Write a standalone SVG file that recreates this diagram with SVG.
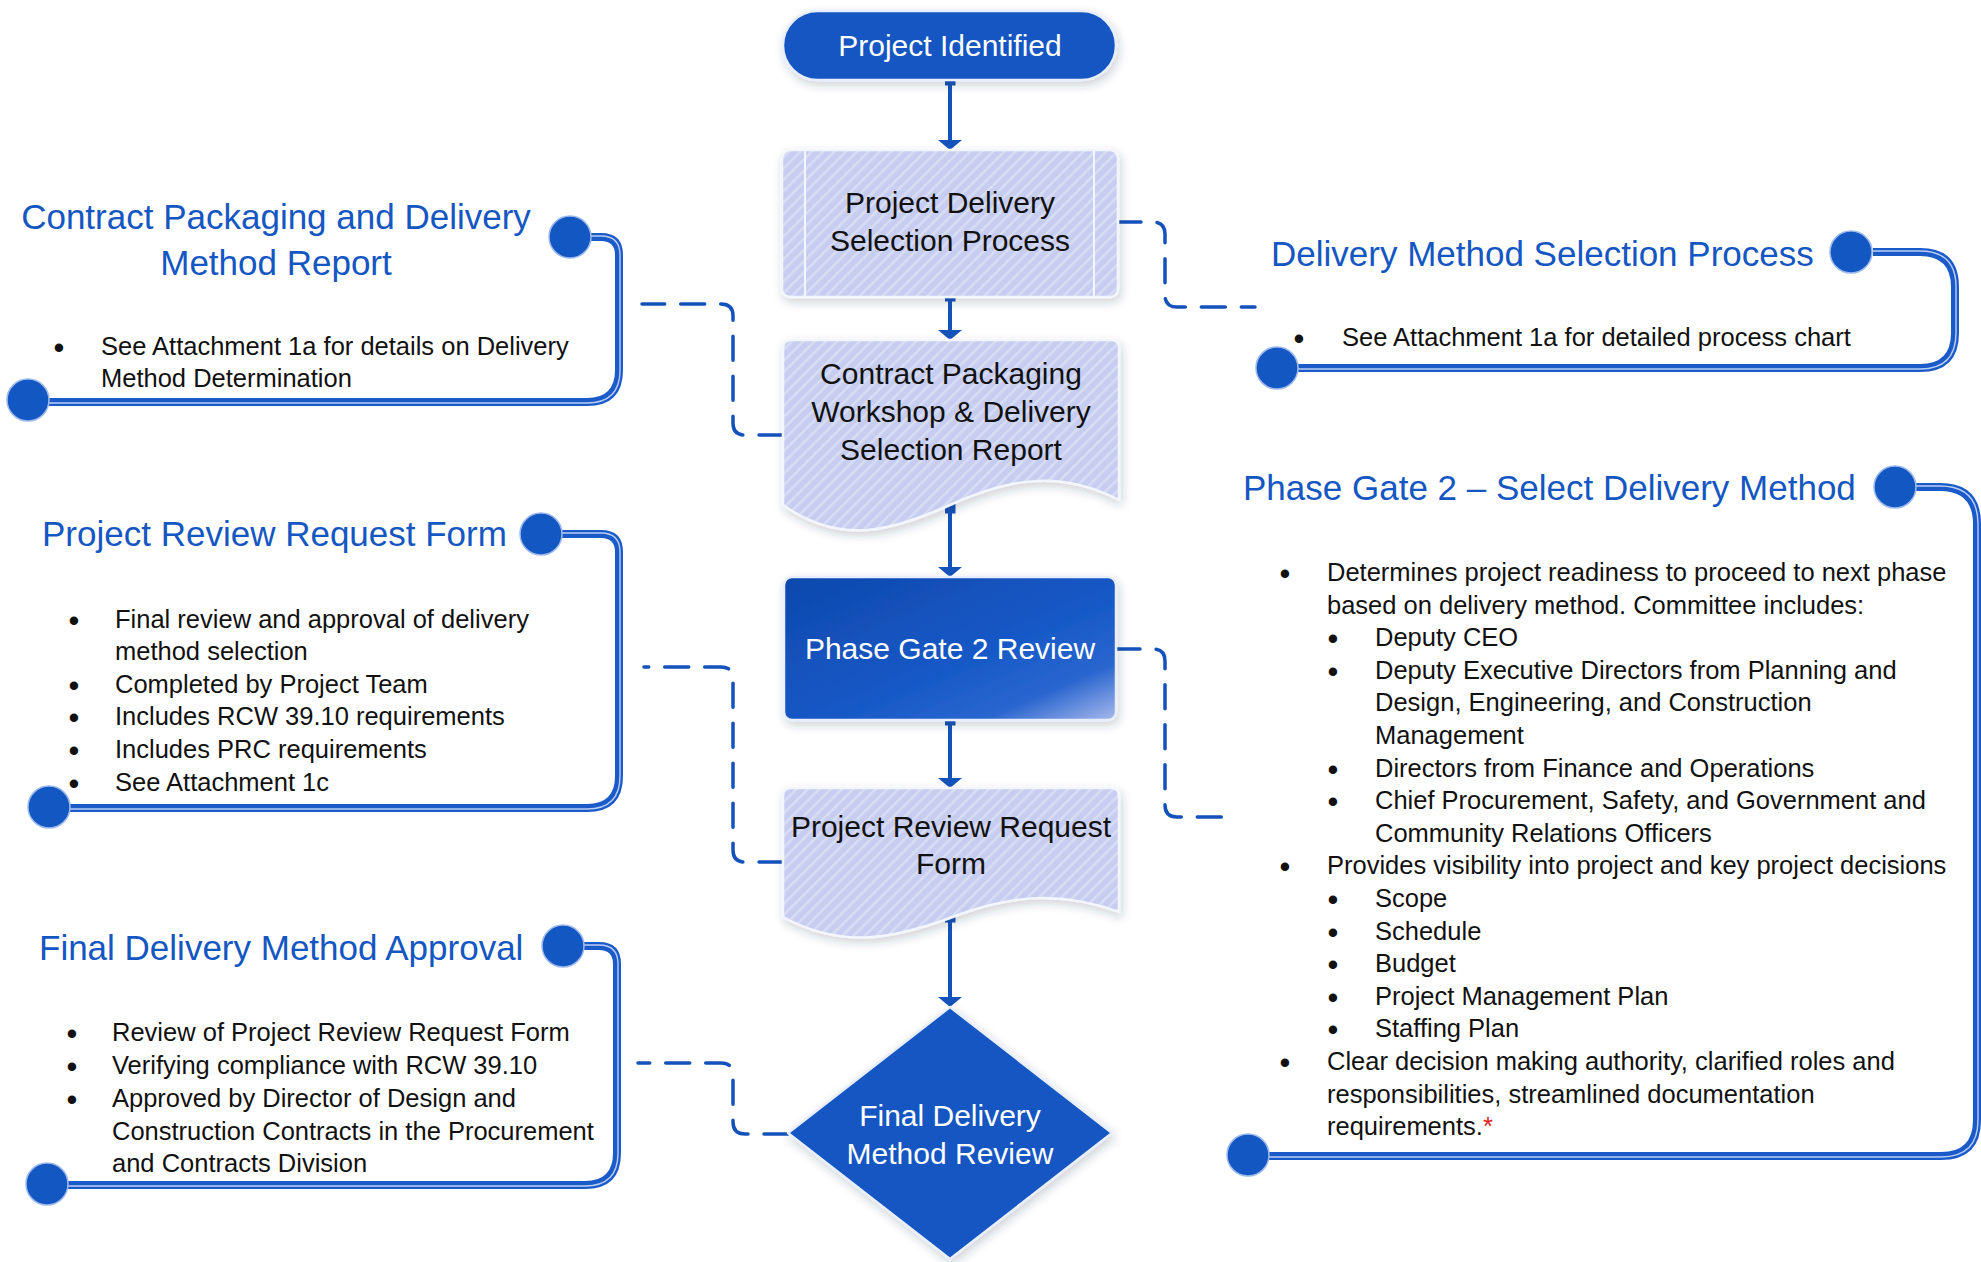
<svg xmlns="http://www.w3.org/2000/svg" width="1981" height="1262" viewBox="0 0 1981 1262">
<defs>
<style>
.nt{font-family:"Liberation Sans",Arial,sans-serif;font-size:30px;text-anchor:middle}
.dk{fill:#ffffff}
.lt{fill:#111111}
.ttl{font-family:"Liberation Sans",Arial,sans-serif;font-size:35px;fill:#1456c2}
.bd{font-family:"Liberation Sans",Arial,sans-serif;font-size:25.5px;fill:#111111}
.bu{font-family:"Liberation Sans",Arial,sans-serif;font-size:31px;fill:#111111;text-anchor:middle}
.band{fill:none;stroke:#1a5bc9;stroke-width:8;stroke-linejoin:round}
.hl{fill:none;stroke:#d6e2fa;stroke-width:1.4;opacity:0.85}
.dot{fill:#1357c3;stroke:#9db9ec;stroke-width:1.5}
.flow{fill:none;stroke:#1452bb;stroke-width:4}
.dash{fill:none;stroke:#1452bb;stroke-width:3.5;stroke-dasharray:24 16;stroke-linecap:round}
.lnode{fill:url(#stripes);stroke:#f4f6fd;stroke-width:2.5}
.dnode{stroke:#e8eefb;stroke-width:2.5}
</style>
<pattern id="stripes" patternUnits="userSpaceOnUse" width="8" height="8" patternTransform="rotate(45)">
<rect width="8" height="8" fill="#c6cdf0"/>
<rect x="0" y="0" width="2.5" height="8" fill="#d8ddf5"/>
</pattern>
<linearGradient id="pg" x1="0" y1="0" x2="1" y2="1">
<stop offset="0" stop-color="#0f49ad"/>
<stop offset="0.55" stop-color="#1558c6"/>
<stop offset="0.8" stop-color="#2a66cf"/>
<stop offset="1" stop-color="#a8b9ec"/>
</linearGradient>
<filter id="sh" x="-10%" y="-10%" width="125%" height="130%">
<feDropShadow dx="2" dy="4" stdDeviation="5" flood-color="#2a3550" flood-opacity="0.22"/>
</filter>
<marker id="arr" markerUnits="userSpaceOnUse" viewBox="0 0 10 24" markerWidth="10" markerHeight="24" refX="7" refY="12" orient="auto">
<path d="M0,0 L10,12 L0,24 Z" fill="#1452bb"/>
</marker>
<marker id="sq" markerUnits="userSpaceOnUse" viewBox="0 0 11 11" markerWidth="11" markerHeight="11" refX="5.5" refY="5.5" orient="auto">
<rect width="11" height="11" fill="#1452bb"/>
</marker>
</defs>
<rect width="1981" height="1262" fill="#ffffff"/>

<g id="connectors">
<path class="flow" d="M950,80 V147" marker-start="url(#sq)" marker-end="url(#arr)"/>
<path class="flow" d="M950,296 V337" marker-start="url(#sq)" marker-end="url(#arr)"/>
<path class="flow" d="M950,508 V574" marker-start="url(#sq)" marker-end="url(#arr)"/>
<path class="flow" d="M950,720 V785" marker-start="url(#sq)" marker-end="url(#arr)"/>
<path class="flow" d="M950,917 V1004" marker-start="url(#sq)" marker-end="url(#arr)"/>
<path class="dash" d="M783,435 H745 Q733,435 733,423 V316 Q733,304 721,304 H642"/>
<path class="dash" d="M783,862 H745 Q733,862 733,850 V679 Q733,667 721,667 H644"/>
<path class="dash" d="M788,1134 H745 Q733,1134 733,1122 V1075 Q733,1063 721,1063 H638"/>
<path class="dash" d="M1117,222 H1153 Q1165,222 1165,234 V295 Q1165,307 1177,307 H1255"/>
<path class="dash" d="M1116,649 H1153 Q1165,649 1165,661 V805 Q1165,817 1177,817 H1223"/>
</g>

<g id="n-project-identified">
<rect x="783" y="11" width="333" height="69" rx="34.5" fill="#1357c3" class="dnode" filter="url(#sh)"/>
<text class="nt dk" x="950" y="56">Project Identified</text>
</g>

<g id="n-pdsp">
<rect x="782" y="150" width="336" height="147" rx="8" class="lnode" filter="url(#sh)"/>
<line x1="805" y1="151" x2="805" y2="296" stroke="#f4f6fd" stroke-width="2"/>
<line x1="1094" y1="151" x2="1094" y2="296" stroke="#f4f6fd" stroke-width="2"/>
<text class="nt lt" x="950" y="213">Project Delivery</text>
<text class="nt lt" x="950" y="251">Selection Process</text>
</g>

<g id="n-cpw">
<path class="lnode" filter="url(#sh)" d="M783,348 Q783,340 791,340 H1111 Q1119,340 1119,348 V500 C1060,470 1010,478 950,505 C890,532 840,545 783,505 Z"/>
<text class="nt lt" x="951" y="384">Contract Packaging</text>
<text class="nt lt" x="951" y="422">Workshop &amp; Delivery</text>
<text class="nt lt" x="951" y="460">Selection Report</text>
</g>

<g id="n-pg2">
<rect x="784" y="577" width="332" height="143" rx="8" fill="url(#pg)" class="dnode" filter="url(#sh)"/>
<text class="nt dk" x="950" y="659">Phase Gate 2 Review</text>
</g>

<g id="n-prrf">
<path class="lnode" filter="url(#sh)" d="M783,796 Q783,788 791,788 H1111 Q1119,788 1119,796 V912 C1060,890 1010,895 950,918 C890,940 840,948 783,917 Z"/>
<text class="nt lt" x="951" y="837">Project Review Request</text>
<text class="nt lt" x="951" y="874">Form</text>
</g>

<g id="n-fdmr">
<path d="M950,1007 L1112,1133 L950,1259 L788,1133 Z" fill="#1357c3" class="dnode" stroke-linejoin="round" filter="url(#sh)"/>
<text class="nt dk" x="950" y="1126">Final Delivery</text>
<text class="nt dk" x="950" y="1164">Method Review</text>
</g>

<g id="p-cpdmr">
<path class="band" d="M591,237 H601 Q619,237 619,255 V370 Q619,402 587,402 H49"/>
<path class="hl" d="M591,236 H601 Q620,236 620,255 V370 Q620,403 587,403 H49"/>
<circle class="dot" cx="570" cy="237" r="21"/>
<circle class="dot" cx="28" cy="400" r="21"/>
<text class="ttl" x="276" y="229" text-anchor="middle">Contract Packaging and Delivery</text>
<text class="ttl" x="276" y="275" text-anchor="middle">Method Report</text>
<text class="bu" x="59" y="358">•</text>
<text class="bd" x="101" y="355">See Attachment 1a for details on Delivery</text>
<text class="bd" x="101" y="387">Method Determination</text>
</g>

<g id="p-prrf">
<path class="band" d="M562,534 H601 Q619,534 619,552 V776 Q619,808 587,808 H70"/>
<path class="hl" d="M562,533 H601 Q620,533 620,552 V776 Q620,809 587,809 H70"/>
<circle class="dot" cx="541" cy="534" r="21"/>
<circle class="dot" cx="49" cy="807" r="21"/>
<text class="ttl" x="42" y="546">Project Review Request Form</text>
<text class="bu" x="74" y="631">•</text>
<text class="bd" x="115" y="628">Final review and approval of delivery</text>
<text class="bd" x="115" y="660">method selection</text>
<text class="bu" x="74" y="696">•</text>
<text class="bd" x="115" y="693">Completed by Project Team</text>
<text class="bu" x="74" y="728">•</text>
<text class="bd" x="115" y="725">Includes RCW 39.10 requirements</text>
<text class="bu" x="74" y="761">•</text>
<text class="bd" x="115" y="758">Includes PRC requirements</text>
<text class="bu" x="74" y="794">•</text>
<text class="bd" x="115" y="791">See Attachment 1c</text>
</g>

<g id="p-fdma">
<path class="band" d="M584,946 H599 Q617,946 617,964 V1153 Q617,1185 585,1185 H68"/>
<path class="hl" d="M584,945 H599 Q618,945 618,964 V1153 Q618,1186 585,1186 H68"/>
<circle class="dot" cx="563" cy="946" r="21"/>
<circle class="dot" cx="47" cy="1184" r="21"/>
<text class="ttl" x="39" y="960">Final Delivery Method Approval</text>
<text class="bu" x="72" y="1044">•</text>
<text class="bd" x="112" y="1041">Review of Project Review Request Form</text>
<text class="bu" x="72" y="1077">•</text>
<text class="bd" x="112" y="1074">Verifying compliance with RCW 39.10</text>
<text class="bu" x="72" y="1110">•</text>
<text class="bd" x="112" y="1107">Approved by Director of Design and</text>
<text class="bd" x="112" y="1140">Construction Contracts in the Procurement</text>
<text class="bd" x="112" y="1172">and Contracts Division</text>
</g>

<g id="p-dmsp">
<path class="band" d="M1873,252 H1920 Q1955,252 1955,287 V333 Q1955,368 1920,368 H1298"/>
<path class="hl" d="M1873,251 H1920 Q1956,251 1956,287 V333 Q1956,369 1920,369 H1298"/>
<circle class="dot" cx="1851" cy="252" r="21"/>
<circle class="dot" cx="1277" cy="368" r="21"/>
<text class="ttl" x="1271" y="266">Delivery Method Selection Process</text>
<text class="bu" x="1299" y="349">•</text>
<text class="bd" x="1342" y="346">See Attachment 1a for detailed process chart</text>
</g>

<g id="p-pg2">
<path class="band" d="M1916,487 H1940 Q1977,487 1977,524 V1120 Q1977,1156 1941,1156 H1269"/>
<path class="hl" d="M1916,486 H1940 Q1978,486 1978,524 V1120 Q1978,1157 1941,1157 H1269"/>
<circle class="dot" cx="1895" cy="487" r="21"/>
<circle class="dot" cx="1248" cy="1155" r="21"/>
<text class="ttl" x="1243" y="500">Phase Gate 2 – Select Delivery Method</text>
<text class="bu" x="1285" y="584">•</text>
<text class="bd" x="1327" y="581">Determines project readiness to proceed to next phase</text>
<text class="bd" x="1327" y="614">based on delivery method. Committee includes:</text>
<text class="bu" x="1333" y="649">•</text>
<text class="bd" x="1375" y="646">Deputy CEO</text>
<text class="bu" x="1333" y="682">•</text>
<text class="bd" x="1375" y="679">Deputy Executive Directors from Planning and</text>
<text class="bd" x="1375" y="711">Design, Engineering, and Construction</text>
<text class="bd" x="1375" y="744">Management</text>
<text class="bu" x="1333" y="780">•</text>
<text class="bd" x="1375" y="777">Directors from Finance and Operations</text>
<text class="bu" x="1333" y="812">•</text>
<text class="bd" x="1375" y="809">Chief Procurement, Safety, and Government and</text>
<text class="bd" x="1375" y="842">Community Relations Officers</text>
<text class="bu" x="1285" y="877">•</text>
<text class="bd" x="1327" y="874">Provides visibility into project and key project decisions</text>
<text class="bu" x="1333" y="910">•</text>
<text class="bd" x="1375" y="907">Scope</text>
<text class="bu" x="1333" y="943">•</text>
<text class="bd" x="1375" y="940">Schedule</text>
<text class="bu" x="1333" y="975">•</text>
<text class="bd" x="1375" y="972">Budget</text>
<text class="bu" x="1333" y="1008">•</text>
<text class="bd" x="1375" y="1005">Project Management Plan</text>
<text class="bu" x="1333" y="1040">•</text>
<text class="bd" x="1375" y="1037">Staffing Plan</text>
<text class="bu" x="1285" y="1073">•</text>
<text class="bd" x="1327" y="1070">Clear decision making authority, clarified roles and</text>
<text class="bd" x="1327" y="1103">responsibilities, streamlined documentation</text>
<text class="bd" x="1327" y="1135">requirements.<tspan fill="#e02020">*</tspan></text>
</g>
</svg>
